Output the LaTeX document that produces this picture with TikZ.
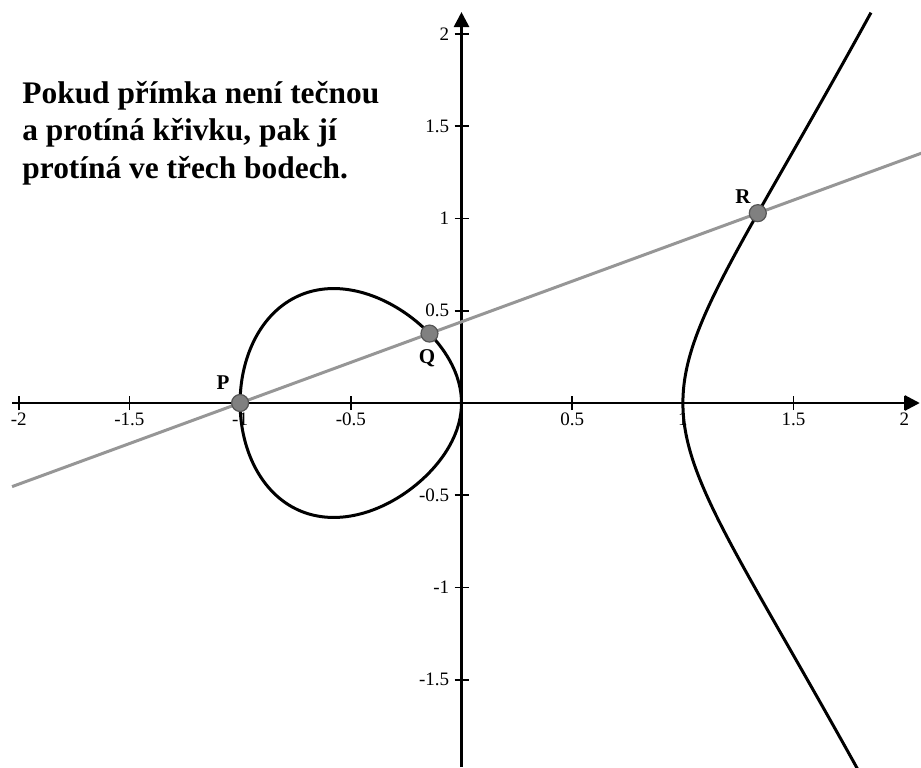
\documentclass[tikz,border=0pt]{standalone}
\usepackage{fontspec}
\setmainfont{Liberation Serif}
\usetikzlibrary{arrows.meta}
\definecolor{linegray}{RGB}{150,150,150}
\definecolor{dotfill}{RGB}{128,128,128}
\definecolor{dotdraw}{RGB}{85,85,85}
\begin{document}
\begin{tikzpicture}[x=110.7pt,y=92.25pt,
  axis/.style={line width=1.4pt,-{Triangle[length=7.5pt,width=7.5pt]}},
  tickmark/.style={line width=0.8pt},
  curve/.style={line width=1.5pt,line join=round},
  chord/.style={line width=1.5pt,color=linegray},
  pt/.style={circle,fill=dotfill,draw=dotdraw,line width=0.6pt,inner sep=0pt,minimum size=8.5pt},
  ptlabel/.style={font=\bfseries\fontsize{10.5}{12}\selectfont,inner sep=0pt},
  ticklab/.style={font=\fontsize{9.5}{11}\selectfont,inner sep=0pt},
  heading/.style={font=\bfseries\fontsize{15.7}{19}\selectfont,inner sep=0pt,anchor=base west}]
\useasboundingbox (-2.0845,-1.9729) rectangle (2.0754,2.1843);
% axes
\coordinate (xs) at (-2.030,0);
\coordinate (xe) at (2.070,0);
\coordinate (ys) at (0,-1.9729);
\coordinate (ye) at (0,2.119);
\draw[axis] (xs) -- (xe);
\draw[axis] (ys) -- (ye);
% ticks and labels
\foreach \v/\n in {-2/a,-1.5/b,-1/c,-0.5/d,0.5/e,1/f,1.5/g,2/h}{
  \coordinate (xt\n) at (\v,0);
  \draw[tickmark] (xt\n) ++(0,-3.5pt) -- ++(0,7pt);
  \node[ticklab] (xl\n) at (\v,-0.0867) {\v};
}
\foreach \v/\n in {-1.5/a,-1/b,-0.5/c,0.5/d,1/e,1.5/f,2/g}{
  \coordinate (yt\n) at (0,\v);
  \draw[tickmark] (yt\n) ++(-3.5pt,0) -- ++(7pt,0);
  \node[ticklab,anchor=east] (yl\n) at (-0.054,\v) {\v};
}
% curve
\begin{scope}
\clip (-2.0845,-1.9729) rectangle (2.0754,2.1843);
\draw[curve] plot[domain=0:360,samples=150,smooth,variable=\t]
  ({-(1-cos(\t))/2},{sin(\t)/2*sqrt(1+(1-cos(\t))/2)}) -- cycle;
\draw[curve] plot[domain=-0.95:0.922,samples=100,smooth,variable=\s]
  ({1+\s*\s},{\s*sqrt((1+\s*\s)*(2+\s*\s))});
% chord
\coordinate (cl) at (-2.030,{0.44*(-1.030)});
\coordinate (cr) at (2.1,{0.44*3.1});
\draw[chord] (cl) -- (cr);
\end{scope}
% points
\node[pt] (P) at (-1,0) {};
\node[pt] (Q) at (-0.1447,0.3763) {};
\node[pt] (R) at (1.3383,1.0289) {};
\node[ptlabel] (Pl) at (-1.077,0.108) {P};
\node[ptlabel] (Ql) at (-0.156,0.244) {Q};
\node[ptlabel] (Rl) at (1.271,1.117) {R};
% heading
\node[heading] (h1) at (-1.985,1.626) {Pokud přímka není tečnou};
\node[heading] (h2) at (-1.985,1.4228) {a protíná křivku, pak jí};
\node[heading] (h3) at (-1.985,1.2195) {protíná ve třech bodech.};
\end{tikzpicture}
\end{document}
